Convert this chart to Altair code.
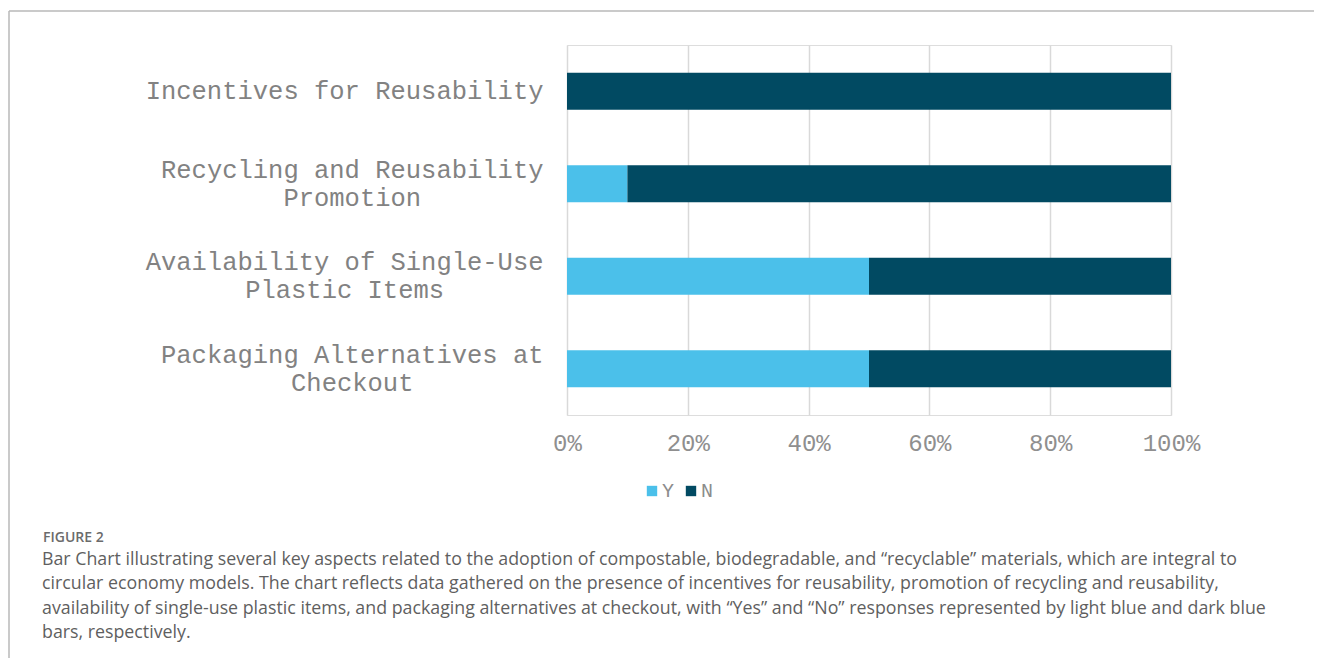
import altair as alt
import pandas as pd

# ---- data ----
categories = [
    "Incentives for Reusability",
    "Recycling and Reusability Promotion",
    "Availability of Single-Use Plastic Items",
    "Packaging Alternatives at Checkout",
]
label_lines = [
    ["Incentives for Reusability"],
    ["Recycling and Reusability", "Promotion"],
    ["Availability of Single-Use", "Plastic Items"],
    ["Packaging Alternatives at", "Checkout"],
]
responses = ["Y", "N"]
yes_pct = [0, 10, 50, 50]
no_pct = [100, 90, 50, 50]
x_ticks = [0, 20, 40, 60, 80, 100]

fig_label = "FIGURE 2"
caption_lines = [
    "Bar Chart illustrating several key aspects related to the adoption of compostable, biodegradable, and \u201crecyclable\u201d materials, which are integral to",
    "circular economy models. The chart reflects data gathered on the presence of incentives for reusability, promotion of recycling and reusability,",
    "availability of single-use plastic items, and packaging alternatives at checkout, with \u201cYes\u201d and \u201cNo\u201d responses represented by light blue and dark blue",
    "bars, respectively.",
]

rows = []
for c, y, n in zip(categories, yes_pct, no_pct):
    rows.append({"category": c, "response": "Y", "pct": y, "ord": 0})
    rows.append({"category": c, "response": "N", "pct": n, "ord": 1})
df = pd.DataFrame(rows)

# ---- style ----
W, H = 604, 370
PAD_L, PAD_T = 559, 37
MONO = "Liberation Mono"
Y_FS = 25.5
LINE_H = 28
GAP = 24
colors = ["#4BC0EA", "#014A62"]

def js_str(s):
    return "'" + s.replace("'", "\\'") + "'"

expr = "datum.label"
pad_cond = []
off_cond = []
for c, lines in reversed(list(zip(categories, label_lines))):
    arr = "[" + ",".join(js_str(l) for l in lines) + "]"
    expr = f"datum.label === {js_str(c)} ? {arr} : ({expr})"
for c, lines in zip(categories, label_lines):
    maxlen = max(len(l) for l in lines)
    test = f"datum.value === {js_str(c)}"
    pad_cond.append({"test": test, "value": GAP + maxlen * 0.6 * Y_FS / 2})
    off_cond.append({"test": test, "value": -(len(lines) - 1) * LINE_H / 2})

bars = alt.Chart(df).mark_bar(size=37).encode(
    y=alt.Y("category:N", sort=categories, title=None,
            scale=alt.Scale(paddingInner=0.1, paddingOuter=0.05),
            axis=alt.Axis(domain=False, ticks=False, grid=False,
                          labelAlign="center", labelBaseline="middle",
                          labelFont=MONO, labelFontSize=Y_FS, labelColor="#828282",
                          labelLineHeight=LINE_H, labelLimit=1000,
                          labelExpr=expr,
                          labelPadding={"condition": pad_cond, "value": 200},
                          labelOffset={"condition": off_cond, "value": 0})),
    x=alt.X("pct:Q", stack="zero", title=None,
            scale=alt.Scale(domain=[0, 100], nice=False),
            axis=alt.Axis(values=x_ticks, labelExpr="datum.value + '%'",
                          domain=False, ticks=False, tickSize=0,
                          grid=True, gridColor="#d9d9d9", gridWidth=1.5,
                          labelFont=MONO, labelFontSize=24, labelColor="#8f8f8f",
                          labelPadding=16, labelFlush=False)),
    color=alt.Color("response:N",
                    scale=alt.Scale(domain=responses, range=colors),
                    legend=alt.Legend(title=None, orient="none", legendX=75, legendY=436,
                                      direction="horizontal", symbolType="square",
                                      symbolSize=108, symbolStrokeWidth=0,
                                      labelFont=MONO, labelFontSize=20,
                                      labelColor="#8c8c8c", labelOffset=0,
                                      columnPadding=6, padding=0)),
    order=alt.Order("ord:Q"),
)

one = pd.DataFrame({"k": [0]})

frame_top = alt.Chart(one).mark_rule(color="#b8b8b8", strokeWidth=1.5).encode(
    x=alt.value(-558), x2=alt.value(760), y=alt.value(-34))
frame_left = alt.Chart(one).mark_rule(color="#b8b8b8", strokeWidth=1.5).encode(
    x=alt.value(-558), y=alt.value(-34), y2=alt.value(640))

fig_text = alt.Chart(one).mark_text(
    align="left", baseline="alphabetic", font="Open Sans", fontSize=14,
    fontWeight=600, color="#6b6b6b").encode(
    x=alt.value(-524), y=alt.value(497), text=alt.value(fig_label))

cap_text = alt.Chart(one).mark_text(
    align="left", baseline="alphabetic", font="Open Sans", fontSize=17.8,
    color="#5f5f5f", lineHeight=24.4).encode(
    x=alt.value(-525), y=alt.value(520), text=alt.value(caption_lines))

chart = alt.layer(bars, frame_top, frame_left, fig_text, cap_text).properties(
    width=W, height=H,
    autosize=alt.AutoSizeParams(type="none"),
    padding={"left": PAD_L, "top": PAD_T, "right": 143, "bottom": 243},
).configure_view(stroke=None).configure(background="white")

chart.save("out.html", embed_options={"renderer": "svg", "actions": False})
